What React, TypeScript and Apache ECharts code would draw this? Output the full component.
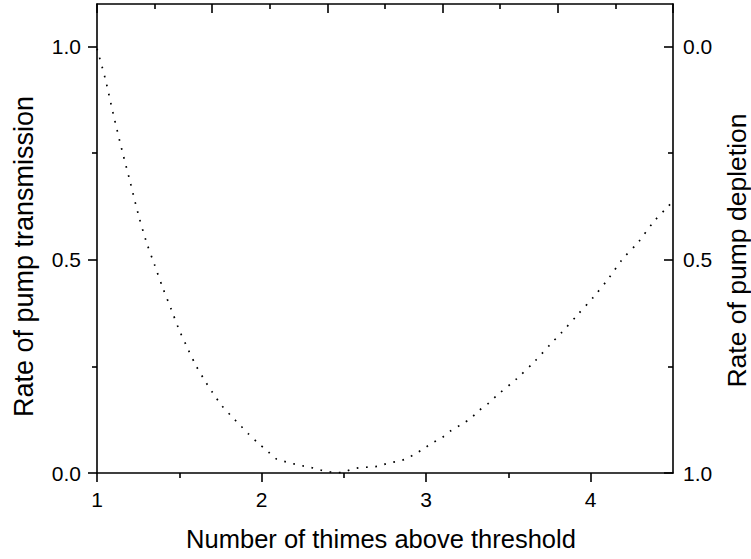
import React, { useEffect, useRef } from "react";
import * as echarts from "echarts";

// Number of times above threshold (x) and rate of pump transmission (left axis)
const xValues = [
  1.0, 1.05, 1.1, 1.15, 1.2, 1.25, 1.3, 1.35, 1.4, 1.45, 1.5, 1.55, 1.6, 1.65, 1.7,
  1.76, 1.82, 1.87, 1.92, 1.98, 2.04, 2.09, 2.15, 2.21, 2.26, 2.32, 2.37, 2.43, 2.49,
  2.54, 2.59, 2.65, 2.71, 2.76, 2.82, 2.87, 2.93, 2.98, 3.04, 3.1, 3.15, 3.21, 3.27,
  3.32, 3.38, 3.43, 3.55, 3.66, 3.76, 3.82, 3.92, 4.02, 4.11, 4.19, 4.29, 4.38, 4.47, 4.5,
];
const transmission = [
  0.995, 0.925, 0.84, 0.76, 0.685, 0.608, 0.542, 0.488, 0.434, 0.385, 0.335, 0.293, 0.253, 0.22, 0.19,
  0.157, 0.132, 0.112, 0.092, 0.07, 0.05, 0.033, 0.026, 0.02, 0.016, 0.011, 0.006, 0.002, 0.001,
  0.008, 0.012, 0.014, 0.016, 0.022, 0.027, 0.032, 0.044, 0.056, 0.071, 0.084, 0.099, 0.113, 0.128,
  0.146, 0.164, 0.182, 0.221, 0.262, 0.304, 0.328, 0.371, 0.414, 0.457, 0.5, 0.542, 0.588, 0.625, 0.637,
];

const xMajorTicks = [1, 2, 3, 4];
const xMinorTicks = [1.5, 2.5, 3.5];
const yMajorTicks = [0, 0.5, 1.0];
const yMinorTicks = [0.25, 0.75];

const xTitle = "Number of thimes above threshold";
const leftTitle = "Rate of pump transmission";
const rightTitle = "Rate of pump depletion";

export default function App() {
  const ref = useRef<HTMLDivElement>(null);

  useEffect(() => {
    document.body.style.margin = "0";
    const chart = echarts.init(ref.current!, null, { renderer: "svg" });
    const font = "'Liberation Sans', Arial, Helvetica, sans-serif";
    const black = "#000";
    const lw = 1.6;
    const axisLine = { show: true, onZero: false, lineStyle: { color: black, width: lw } };
    const noLine = { show: false };
    const tickStyle = { color: black, width: lw };
    const labelStyle = { color: black, fontSize: 21, fontFamily: font };
    const nameStyle = { color: black, fontFamily: font };

    const data = xValues.map((x, i) => [x, transmission[i]]);

    chart.setOption({
      animation: false,
      backgroundColor: "#fff",
      grid: {
        left: 97,
        right: 78,
        top: 4,
        bottom: 86,
        containLabel: false,
        outerBoundsMode: "none",
      },
      xAxis: [
        {
          type: "value",
          position: "bottom",
          min: 1,
          max: 4.5,
          axisLine,
          axisTick: { show: true, inside: false, length: 9, lineStyle: tickStyle, customValues: xMajorTicks },
          axisLabel: { ...labelStyle, margin: 16, customValues: xMajorTicks, formatter: (v: number) => String(v) },
          splitLine: { show: false },
          name: xTitle,
          nameLocation: "middle",
          nameGap: 53,
          nameTextStyle: { ...nameStyle, fontSize: 25.5, padding: [0, 8, 0, 0] },
        },
        {
          type: "value",
          position: "bottom",
          min: 1,
          max: 4.5,
          axisLine: noLine,
          axisTick: { show: true, inside: false, length: 5, lineStyle: tickStyle, customValues: xMinorTicks },
          axisLabel: { show: false },
          splitLine: { show: false },
        },
        {
          type: "value",
          position: "top",
          min: 0,
          max: 1,
          interval: 0.2,
          axisLine,
          axisTick: { show: true, inside: true, length: 9, lineStyle: tickStyle },
          minorTick: { show: true, splitNumber: 2, length: 5, lineStyle: tickStyle },
          axisLabel: { show: false },
          splitLine: { show: false },
        },
      ],
      yAxis: [
        {
          type: "value",
          position: "left",
          min: 0,
          max: 1.1,
          axisLine,
          axisTick: { show: true, inside: false, length: 9, lineStyle: tickStyle, customValues: yMajorTicks },
          axisLabel: { ...labelStyle, margin: 16, customValues: yMajorTicks, formatter: (v: number) => v.toFixed(1) },
          splitLine: { show: false },
          name: leftTitle,
          nameLocation: "middle",
          nameGap: 60,
          nameTextStyle: { ...nameStyle, fontSize: 27, padding: [0, 36, 0, 0] },
        },
        {
          type: "value",
          position: "left",
          min: 0,
          max: 1.1,
          axisLine: noLine,
          axisTick: { show: true, inside: false, length: 5, lineStyle: tickStyle, customValues: yMinorTicks },
          axisLabel: { show: false },
          splitLine: { show: false },
        },
        {
          type: "value",
          position: "right",
          min: -0.1,
          max: 1.0,
          inverse: true,
          axisLine,
          axisTick: { show: true, inside: true, length: 9, lineStyle: tickStyle, customValues: yMajorTicks },
          axisLabel: { ...labelStyle, margin: 10, customValues: yMajorTicks, formatter: (v: number) => v.toFixed(1) },
          splitLine: { show: false },
          name: rightTitle,
          nameLocation: "middle",
          nameGap: 51,
          nameTextStyle: { ...nameStyle, fontSize: 26.5, lineHeight: 24, padding: [0, 24, 0, 0] },
        },
        {
          type: "value",
          position: "right",
          min: -0.1,
          max: 1.0,
          inverse: true,
          axisLine: noLine,
          axisTick: { show: true, inside: true, length: 5, lineStyle: tickStyle, customValues: yMinorTicks },
          axisLabel: { show: false },
          splitLine: { show: false },
        },
      ],
      series: [
        {
          type: "line",
          xAxisIndex: 0,
          yAxisIndex: 0,
          data,
          showSymbol: false,
          smooth: 0.3,
          lineStyle: { color: black, width: 1.7, type: [1.7, 7.6] },
        },
      ],
    });
    return () => chart.dispose();
  }, []);

  return <div ref={ref} style={{ width: 751, height: 559 }} />;
}
